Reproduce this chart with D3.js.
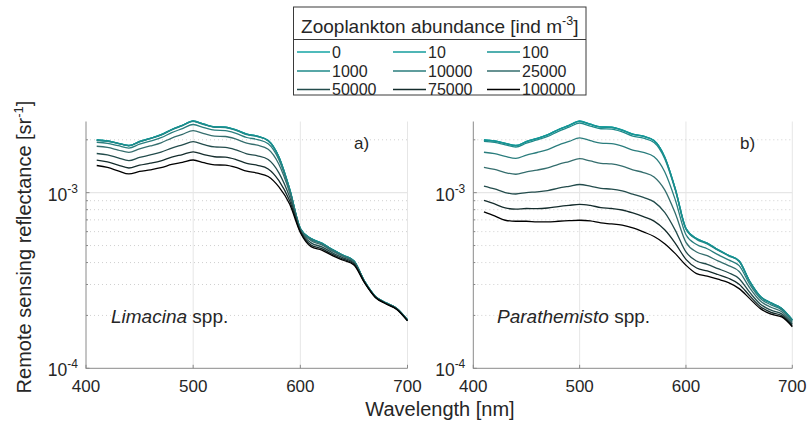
<!DOCTYPE html>
<html><head><meta charset="utf-8">
<script src="https://cdn.jsdelivr.net/npm/d3@7/dist/d3.min.js"></script>
<style>
body{margin:0;background:#fff}
svg{display:block}
text{font-family:"Liberation Sans",Arial,Helvetica,sans-serif;fill:#262626}
</style></head>
<body><svg id="c" width="809" height="427"></svg>
<script>
// Wavelength [nm]
const wavelengths = [410,420,430,440,450,460,470,480,490,500,510,520,530,540,550,560,570,580,590,600,610,620,630,640,650,660,670,680,690,700];
// Zooplankton abundance [ind m^-3]
const abundances = ["0","10","100","1000","10000","25000","50000","75000","100000"];
const seriesColors = ["#14a4a4","#159c9c","#169494","#1f8a8a","#2a7d7d","#356e6e","#234c4c","#142c2c","#000000"];
const xTickValues = [400,500,600,700];
// Remote sensing reflectance, in units of 10^-3 sr^-1
const UNIT = 1e-3;
// a) Limacina spp.
const lim0      = [1.995,1.970,1.911,1.856,1.956,2.040,2.138,2.289,2.419,2.559,2.454,2.372,2.359,2.275,2.153,2.097,1.982,1.597,1.050,0.6254,0.5473,0.5159,0.4738,0.4402,0.4086,0.3123,0.2566,0.2356,0.2192,0.1886];
const lim10     = [1.995,1.970,1.911,1.856,1.956,2.040,2.138,2.289,2.419,2.558,2.454,2.372,2.359,2.275,2.153,2.097,1.982,1.597,1.050,0.6254,0.5473,0.5159,0.4738,0.4402,0.4086,0.3123,0.2566,0.2356,0.2192,0.1886];
const lim100    = [1.994,1.969,1.910,1.855,1.954,2.038,2.136,2.287,2.417,2.556,2.452,2.370,2.357,2.273,2.151,2.095,1.980,1.596,1.050,0.6253,0.5472,0.5158,0.4737,0.4401,0.4086,0.3123,0.2566,0.2356,0.2192,0.1886];
const lim1000   = [1.987,1.962,1.903,1.848,1.947,2.030,2.127,2.276,2.405,2.543,2.439,2.358,2.345,2.262,2.140,2.085,1.971,1.589,1.048,0.6250,0.5466,0.5153,0.4734,0.4399,0.4083,0.3122,0.2566,0.2356,0.2192,0.1886];
const lim10000  = [1.936,1.909,1.850,1.795,1.888,1.966,2.056,2.197,2.316,2.444,2.345,2.268,2.256,2.176,2.061,2.007,1.900,1.541,1.032,0.6225,0.5422,0.5117,0.4704,0.4376,0.4067,0.3117,0.2563,0.2353,0.2189,0.1884];
const lim25000  = [1.838,1.809,1.749,1.694,1.776,1.844,1.923,2.046,2.148,2.258,2.169,2.099,2.088,2.017,1.912,1.862,1.766,1.450,1.001,0.6175,0.5334,0.5044,0.4647,0.4332,0.4034,0.3108,0.2558,0.2348,0.2185,0.1880];
const lim50000  = [1.671,1.639,1.578,1.523,1.588,1.639,1.700,1.795,1.871,1.952,1.878,1.822,1.812,1.753,1.665,1.622,1.544,1.297,0.9461,0.6083,0.5177,0.4914,0.4544,0.4252,0.3974,0.3091,0.2548,0.2340,0.2177,0.1873];
const lim75000  = [1.532,1.497,1.437,1.382,1.434,1.472,1.519,1.593,1.649,1.709,1.647,1.601,1.592,1.543,1.468,1.430,1.365,1.170,0.8989,0.6001,0.5038,0.4798,0.4452,0.4180,0.3920,0.3075,0.2540,0.2332,0.2169,0.1867];
const lim100000 = [1.428,1.391,1.332,1.278,1.320,1.350,1.388,1.447,1.489,1.535,1.481,1.441,1.434,1.391,1.326,1.291,1.236,1.078,0.8623,0.5935,0.4928,0.4707,0.4379,0.4124,0.3877,0.3062,0.2532,0.2325,0.2164,0.1861];
// b) Parathemisto spp.
const par0      = [1.995,1.970,1.911,1.856,1.956,2.040,2.138,2.289,2.419,2.559,2.454,2.372,2.359,2.275,2.153,2.097,1.982,1.597,1.050,0.6254,0.5473,0.5159,0.4738,0.4402,0.4086,0.3123,0.2566,0.2356,0.2192,0.1886];
const par10     = [1.994,1.970,1.910,1.856,1.955,2.039,2.137,2.288,2.418,2.557,2.453,2.371,2.358,2.274,2.152,2.096,1.981,1.597,1.050,0.6253,0.5472,0.5158,0.4738,0.4402,0.4086,0.3123,0.2566,0.2356,0.2192,0.1886];
const par100    = [1.989,1.964,1.905,1.850,1.950,2.033,2.131,2.281,2.410,2.549,2.445,2.363,2.350,2.266,2.145,2.089,1.975,1.592,1.047,0.6245,0.5466,0.5152,0.4732,0.4397,0.4082,0.3121,0.2565,0.2355,0.2191,0.1885];
const par1000   = [1.957,1.931,1.872,1.819,1.915,1.995,2.089,2.234,2.359,2.492,2.392,2.312,2.299,2.218,2.100,2.044,1.932,1.561,1.032,0.6194,0.5423,0.5114,0.4701,0.4370,0.4056,0.3109,0.2558,0.2349,0.2187,0.1883];
const par10000  = [1.699,1.667,1.610,1.568,1.637,1.693,1.760,1.866,1.956,2.051,1.978,1.914,1.901,1.840,1.747,1.694,1.600,1.316,0.9090,0.5762,0.5063,0.4792,0.4436,0.4141,0.3841,0.3006,0.2497,0.2297,0.2151,0.1858];
const par25000  = [1.394,1.356,1.302,1.273,1.315,1.345,1.384,1.449,1.504,1.561,1.515,1.469,1.457,1.415,1.350,1.301,1.229,1.037,0.7607,0.5207,0.4597,0.4375,0.4088,0.3841,0.3559,0.2867,0.2415,0.2227,0.2101,0.1823];
const par50000  = [1.091,1.050,1.002,0.9828,1.001,1.011,1.028,1.060,1.087,1.113,1.090,1.058,1.048,1.023,0.9803,0.9388,0.8860,0.7718,0.6102,0.4594,0.4081,0.3909,0.3696,0.3498,0.3239,0.2704,0.2317,0.2143,0.2041,0.1781];
const par75000  = [0.9031,0.8627,0.8187,0.8057,0.8125,0.8117,0.8178,0.8332,0.8462,0.8575,0.8454,0.8226,0.8127,0.7967,0.7667,0.7304,0.6887,0.6148,0.5150,0.4171,0.3723,0.3583,0.3420,0.3256,0.3012,0.2584,0.2244,0.2081,0.1996,0.1750];
const par100000 = [0.7765,0.7368,0.6964,0.6874,0.6874,0.6811,0.6811,0.6874,0.6928,0.6964,0.6901,0.6723,0.6637,0.6525,0.6298,0.5975,0.5632,0.5125,0.4495,0.3862,0.3459,0.3344,0.3215,0.3075,0.2842,0.2493,0.2187,0.2032,0.1961,0.1725];

const limSeries = [lim0,lim10,lim100,lim1000,lim10000,lim25000,lim50000,lim75000,lim100000];
const parSeries = [par0,par10,par100,par1000,par10000,par25000,par50000,par75000,par100000];

const svg = d3.select("#c");
const yTop = 121.5, yBot = 368.3;
const y = d3.scaleLog().domain([1e-4, 2.542e-3]).range([yBot, yTop]);
const yAll = y.ticks();
const yMajor = yAll.filter(v => Math.abs(Math.log10(v) - Math.round(Math.log10(v))) < 1e-9);
const yMinor = yAll.filter(v => !yMajor.includes(v));

const panels = [
  {series: limSeries, label: "a)", species: "Limacina", x0: 86, x1: 407.5, labX: 354, spX: 111},
  {series: parSeries, label: "b)", species: "Parathemisto", x0: 473.3, x1: 792.3, labX: 740, spX: 497}
];

panels.forEach(p => {
  const x = d3.scaleLinear().domain([400, 700]).range([p.x0, p.x1]);
  const g = svg.append("g");
  // grid
  xTickValues.slice(1).forEach(t => {
    g.append("line").attr("x1", x(t)).attr("x2", x(t)).attr("y1", yTop).attr("y2", yBot)
      .attr("stroke", "#e6e6e6").attr("stroke-width", 1);
  });
  yMinor.forEach(v => {
    g.append("line").attr("x1", p.x0).attr("x2", p.x1).attr("y1", y(v)).attr("y2", y(v))
      .attr("stroke", "#c4c4c4").attr("stroke-width", 0.8).attr("stroke-dasharray", "1,3");
  });
  yMajor.filter(v => v > 1e-4).forEach(v => {
    g.append("line").attr("x1", p.x0).attr("x2", p.x1).attr("y1", y(v)).attr("y2", y(v))
      .attr("stroke", "#e6e6e6").attr("stroke-width", 1.2);
  });
  // axes
  g.append("line").attr("x1", p.x0).attr("x2", p.x0).attr("y1", yTop).attr("y2", yBot + 0.5)
    .attr("stroke", "#8a8a8a").attr("stroke-width", 1);
  g.append("line").attr("x1", p.x0).attr("x2", p.x1).attr("y1", yBot).attr("y2", yBot)
    .attr("stroke", "#8a8a8a").attr("stroke-width", 1);
  xTickValues.forEach(t => {
    g.append("line").attr("x1", x(t)).attr("x2", x(t)).attr("y1", yBot).attr("y2", yBot - 3.5)
      .attr("stroke", "#8a8a8a").attr("stroke-width", 1);
    g.append("text").attr("x", x(t)).attr("y", 392).attr("text-anchor", "middle")
      .attr("font-size", 17).text(t);
  });
  yMajor.forEach(v => {
    g.append("line").attr("x1", p.x0).attr("x2", p.x0 + 3.5).attr("y1", y(v)).attr("y2", y(v))
      .attr("stroke", "#8a8a8a").attr("stroke-width", 1);
    const t = g.append("text").attr("x", p.x0 - 8).attr("y", y(v) + 8).attr("text-anchor", "end")
      .attr("font-size", 17.5);
    t.append("tspan").text("10");
    t.append("tspan").attr("dy", -8).attr("font-size", 12).text(String(Math.round(Math.log10(v))));
  });
  yMinor.forEach(v => {
    g.append("line").attr("x1", p.x0).attr("x2", p.x0 + 2).attr("y1", y(v)).attr("y2", y(v))
      .attr("stroke", "#8a8a8a").attr("stroke-width", 1);
  });
  // series
  const line = d3.line().x(d => x(d[0])).y(d => y(d[1] * UNIT)).curve(d3.curveMonotoneX);
  p.series.forEach((vals, i) => {
    g.append("path").datum(wavelengths.map((w, j) => [w, vals[j]]))
      .attr("d", line).attr("fill", "none").attr("stroke", seriesColors[i])
      .attr("stroke-width", 1.3).attr("stroke-linejoin", "round");
  });
  // labels
  g.append("text").attr("x", p.labX).attr("y", 148.5).attr("font-size", 17).text(p.label);
  const s = g.append("text").attr("x", p.spX).attr("y", 323).attr("font-size", 19);
  s.append("tspan").attr("font-style", "italic").text(p.species);
  s.append("tspan").text(" spp.");
});

// axis titles
svg.append("text").attr("x", 440).attr("y", 416).attr("text-anchor", "middle")
  .attr("font-size", 20).text("Wavelength [nm]");
const yl = svg.append("text").attr("transform", "translate(31,247) rotate(-90)")
  .attr("text-anchor", "middle").attr("font-size", 20);
yl.append("tspan").text("Remote sensing reflectance [sr");
yl.append("tspan").attr("dy", -8).attr("font-size", 13).text("-1");
yl.append("tspan").attr("dy", 8).text("]");

// legend
const lg = svg.append("g");
const lx0 = 293.5, lx1 = 586, ly0 = 7, ly1 = 95, lsep = 39.5;
lg.append("rect").attr("x", lx0).attr("y", ly0).attr("width", lx1 - lx0).attr("height", ly1 - ly0)
  .attr("fill", "#fff").attr("stroke", "#3a3a3a").attr("stroke-width", 1);
lg.append("line").attr("x1", lx0).attr("x2", lx1).attr("y1", lsep).attr("y2", lsep)
  .attr("stroke", "#3a3a3a").attr("stroke-width", 1);
const lt = lg.append("text").attr("x", (lx0 + lx1) / 2).attr("y", 32.5).attr("text-anchor", "middle")
  .attr("font-size", 19);
lt.append("tspan").text("Zooplankton abundance [ind m");
lt.append("tspan").attr("dy", -8).attr("font-size", 12.5).text("-3");
lt.append("tspan").attr("dy", 8).text("]");
const colX = [297, 393, 487];
const rowY = [52, 71, 89.5];
abundances.forEach((a, i) => {
  const cx = colX[i % 3], cy = rowY[Math.floor(i / 3)];
  lg.append("line").attr("x1", cx).attr("x2", cx + 33).attr("y1", cy).attr("y2", cy)
    .attr("stroke", seriesColors[i]).attr("stroke-width", 1.3);
  lg.append("text").attr("x", cx + 35).attr("y", cy + 5.8).attr("font-size", 16).text(a);
});
</script>
</body></html>
